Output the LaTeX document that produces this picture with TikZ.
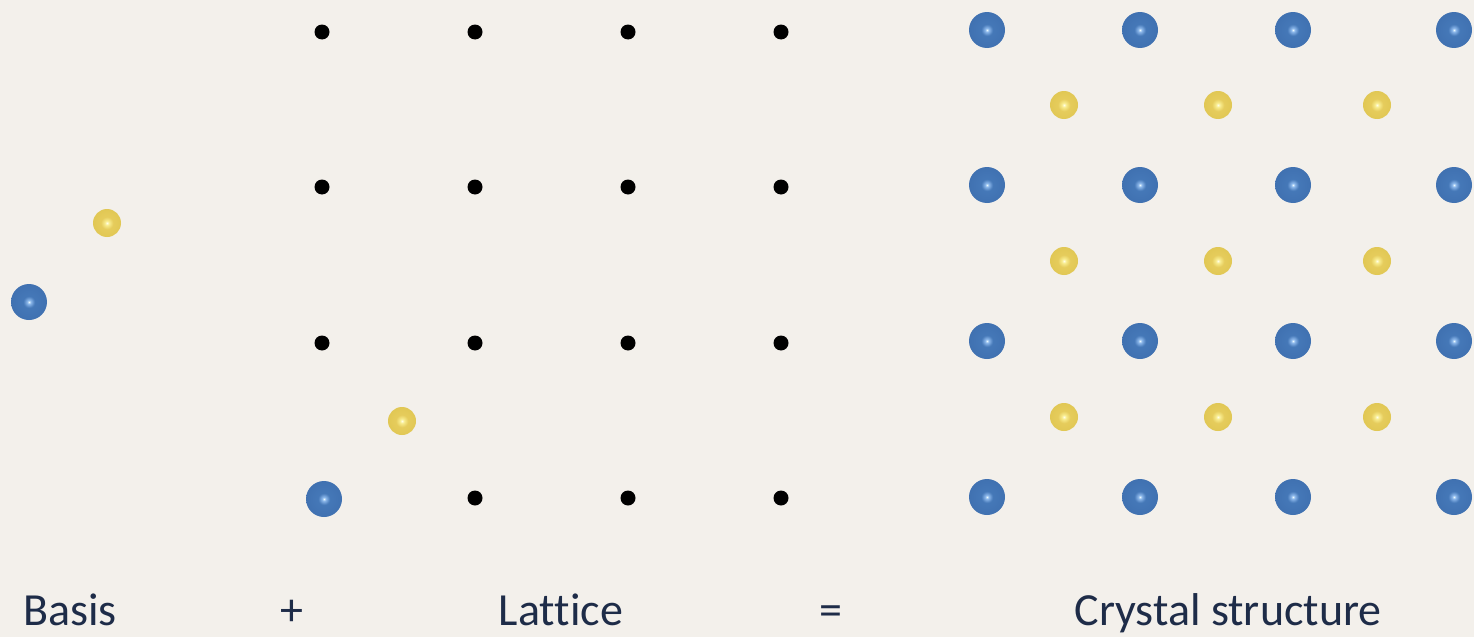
\documentclass[tikz,border=0pt]{standalone}
\usepackage{fontspec}
\setmainfont[Ligatures=NoCommon]{Carlito}
\usepackage{xcolor}
\usepackage{tikz}
\usetikzlibrary{positioning}
\definecolor{bgcol}{RGB}{243,240,235}
\definecolor{txtcol}{RGB}{30,44,72}
\pgfdeclareradialshading{bluesphere}{\pgfpoint{0bp}{0bp}}{rgb(0bp)=(0.92,0.98,1); rgb(2.5bp)=(0.55,0.72,0.92); rgb(8bp)=(0.27,0.47,0.72); rgb(34bp)=(0.24,0.43,0.68); rgb(45bp)=(0.19,0.35,0.57); rgb(50bp)=(0.42,0.47,0.55); rgb(100bp)=(0.42,0.47,0.55)}
\pgfdeclareradialshading{yellowsphere}{\pgfpoint{0bp}{0bp}}{rgb(0bp)=(1,1,0.9); rgb(4bp)=(0.97,0.92,0.55); rgb(11bp)=(0.9,0.8,0.36); rgb(34bp)=(0.87,0.77,0.31); rgb(45bp)=(0.74,0.64,0.23); rgb(50bp)=(0.64,0.6,0.44); rgb(100bp)=(0.64,0.6,0.44)}
\begin{document}
\begin{tikzpicture}[x=0.5pt,y=-0.5pt,
  bigatom/.style={circle,shading=bluesphere,minimum size=18pt,inner sep=0pt},
  smallatom/.style={circle,shading=yellowsphere,minimum size=14pt,inner sep=0pt},
  lpt/.style={circle,fill=black,minimum size=7.5pt,inner sep=0pt},
  lbl/.style={font=\fontsize{23}{27}\selectfont,text=txtcol,anchor=base}]
\fill[bgcol] (0,0) rectangle (1474,637);
\useasboundingbox (0,0) rectangle (1474,637);
% basis
\node[bigatom] (bA) at (29,302) {};
\node[smallatom] (bB) at (107,223) {};
% lattice points
\node[lpt] (l11) at (322,32) {}; \node[lpt] (l12) at (475,32) {}; \node[lpt] (l13) at (628,32) {}; \node[lpt] (l14) at (781,32) {};
\node[lpt] (l21) at (322,187) {}; \node[lpt] (l22) at (475,187) {}; \node[lpt] (l23) at (628,187) {}; \node[lpt] (l24) at (781,187) {};
\node[lpt] (l31) at (322,343) {}; \node[lpt] (l32) at (475,343) {}; \node[lpt] (l33) at (628,343) {}; \node[lpt] (l34) at (781,343) {};
\node[lpt] (l42) at (475,498) {}; \node[lpt] (l43) at (628,498) {}; \node[lpt] (l44) at (781,498) {};
% basis placed on the corner point
\node[bigatom] (lA) at (324,499) {};
\node[smallatom] (lB) at (402,421) {};
% crystal: big atoms
\node[bigatom] (c11) at (987,30) {}; \node[bigatom] (c12) at (1140,30) {}; \node[bigatom] (c13) at (1293,30) {}; \node[bigatom] (c14) at (1454,30) {};
\node[bigatom] (c21) at (987,185) {}; \node[bigatom] (c22) at (1140,185) {}; \node[bigatom] (c23) at (1293,185) {}; \node[bigatom] (c24) at (1454,185) {};
\node[bigatom] (c31) at (987,341) {}; \node[bigatom] (c32) at (1140,341) {}; \node[bigatom] (c33) at (1293,341) {}; \node[bigatom] (c34) at (1454,341) {};
\node[bigatom] (c41) at (987,497) {}; \node[bigatom] (c42) at (1140,497) {}; \node[bigatom] (c43) at (1293,497) {}; \node[bigatom] (c44) at (1454,497) {};
% crystal: small atoms
\node[smallatom] (s11) at (1064,105) {}; \node[smallatom] (s12) at (1218,105) {}; \node[smallatom] (s13) at (1377,105) {};
\node[smallatom] (s21) at (1064,261) {}; \node[smallatom] (s22) at (1218,261) {}; \node[smallatom] (s23) at (1377,261) {};
\node[smallatom] (s31) at (1064,417) {}; \node[smallatom] (s32) at (1218,417) {}; \node[smallatom] (s33) at (1377,417) {};
% labels
\node[lbl] (tbasis) at (70,625) {Basis};
\node[lbl] (tplus) at (292,625) {+};
\node[lbl] (tlat) at (561,625) {Lattice};
\node[lbl] (teq) at (831,625) {=};
\node[lbl] (tcrys) at (1228,625) {Crystal structure};
\end{tikzpicture}
\end{document}
